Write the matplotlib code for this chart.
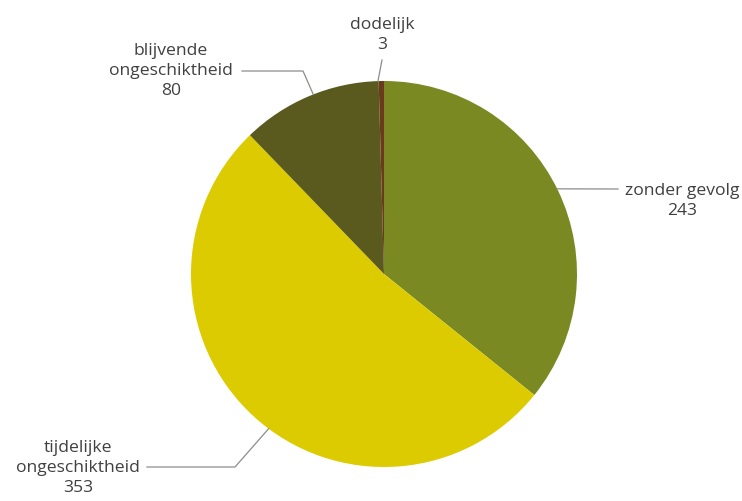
import numpy as np
import matplotlib
matplotlib.use("Agg")
import matplotlib.pyplot as plt

categories = ["zonder gevolg", "tijdelijke\nongeschiktheid", "blijvende\nongeschiktheid", "dodelijk"]
values = [243, 353, 80, 3]
colors = ["#7A8922", "#DCCB00", "#5A5A1F", "#6B3A1A"]

W, H = 742, 502
fig = plt.figure(figsize=(W / 100, H / 100), dpi=100)
ax = fig.add_axes([0, 0, 1, 1])

cx, cy, r = 384, H - 275, 193
wedges, _ = ax.pie(values, colors=colors, startangle=90, counterclock=False,
                   center=(cx, cy), radius=r, frame=True,
                   wedgeprops=dict(linewidth=0))
ax.set_xlim(0, W)
ax.set_ylim(0, H)
ax.set_aspect("equal")
ax.axis("off")

# label layout (pixel coords from top): angle offset, elbow, line end, text centre
layout = [
    (0.6, None, (618, 190), (682, 201)),
    (5.7, (235, 468), (147, 468), (78, 468)),
    (-1.3, (303, 72), (242, 72), (171, 71)),
    (1.0, None, (382, 61), (382, 35)),
]
line_color = "#8C8C8C"
txt_color = "#404040"
fs = 12.6
fam = "Open Sans"
for w, cat, val, (doff, elbow, end, tpos) in zip(wedges, categories, values, layout):
    ang = np.deg2rad((w.theta1 + w.theta2) / 2 + doff)
    sx, sy = cx + r * np.cos(ang), cy + r * np.sin(ang)
    pts = [(sx, sy)]
    if elbow is not None:
        pts.append((elbow[0], H - elbow[1]))
    pts.append((end[0], H - end[1]))
    xs, ys = zip(*pts)
    ax.plot(xs, ys, color=line_color, lw=0.9, zorder=3)
    lines = cat.split("\n") + [str(val)]
    ax.text(tpos[0], H - tpos[1], "\n".join(lines), ha="center", va="center",
            fontsize=fs, color=txt_color, family=fam, linespacing=1.36,
            multialignment="center")

fig.savefig("out.png", dpi=100)
